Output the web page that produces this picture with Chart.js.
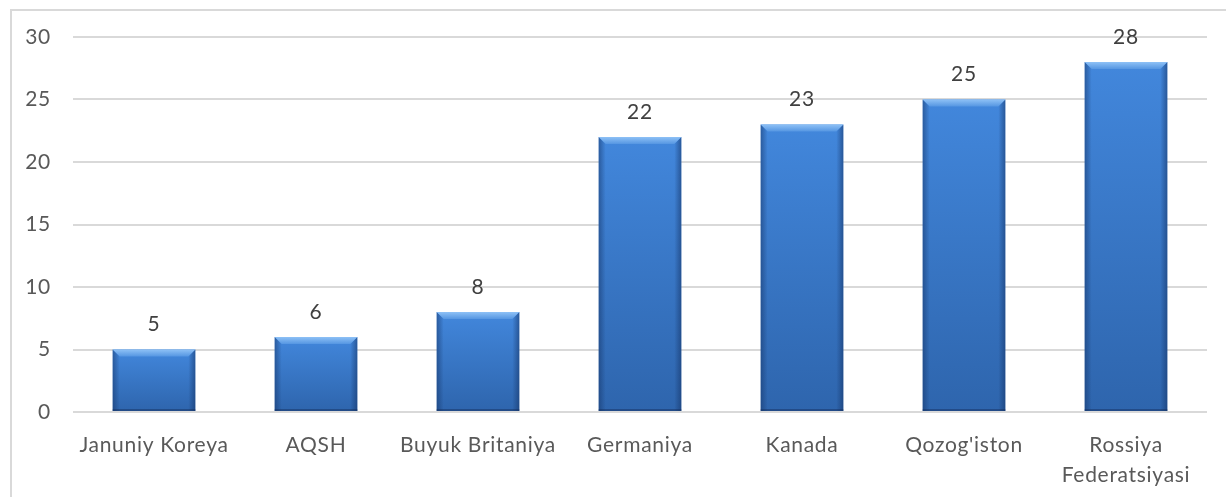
<!DOCTYPE html>
<html>
<head>
<meta charset="utf-8">
<script src="https://cdn.jsdelivr.net/npm/chart.js@4"></script>
<style>
  html, body { margin: 0; padding: 0; background: #fff; overflow: hidden; }
  #wrap { position: relative; width: 1226px; height: 497px; }
  #frame { position: absolute; left: 10px; top: 9px; width: 1300px; height: 600px; border: 2px solid #d9d9d9; box-sizing: border-box; }
  canvas { position: absolute; left: 0; top: 0; }
</style>
</head>
<body>
<div id="wrap">
  <div id="frame"></div>
  <canvas id="chart" width="1226" height="497"></canvas>
</div>
<script>
// Chart data
const countries = ['Januniy Koreya', 'AQSH', 'Buyuk Britaniya', 'Germaniya', 'Kanada', "Qozog'iston", ['Rossiya', 'Federatsiyasi']];
const values = [5, 6, 8, 22, 23, 25, 28];
const yTicks = [0, 5, 10, 15, 20, 25, 30];

const FONT = 'Lato, "Open Sans", sans-serif';
const FONT_SIZE = 21;

// Slightly spaced lettering, like the original rendering
const spacingPlugin = {
  id: 'spacing',
  beforeDraw(chart) {
    if ('letterSpacing' in chart.ctx) chart.ctx.letterSpacing = '0.7px';
  }
};

// Bevelled bar look, drawn over each bar element
const bevelPlugin = {
  id: 'bevel',
  afterDatasetsDraw(chart) {
    const ctx = chart.ctx;
    chart.getDatasetMeta(0).data.forEach(bar => {
      const l = bar.x - bar.width / 2, r = bar.x + bar.width / 2;
      const t = bar.y, b = bar.base;
      const bv = 7;
      ctx.save();
      // body gradient
      let g = ctx.createLinearGradient(0, t, 0, b);
      g.addColorStop(0, '#4287dc');
      g.addColorStop(1, '#2e65ad');
      ctx.fillStyle = g;
      ctx.fillRect(l, t, r - l, b - t);
      // left edge
      g = ctx.createLinearGradient(l, 0, l + bv, 0);
      g.addColorStop(0, 'rgba(20,50,100,0.5)');
      g.addColorStop(1, 'rgba(20,50,100,0)');
      ctx.fillStyle = g;
      ctx.beginPath();
      ctx.moveTo(l, t); ctx.lineTo(l + bv, t + bv); ctx.lineTo(l + bv, b); ctx.lineTo(l, b); ctx.closePath();
      ctx.fill();
      // right edge
      g = ctx.createLinearGradient(r - bv, 0, r, 0);
      g.addColorStop(0, 'rgba(20,50,100,0)');
      g.addColorStop(1, 'rgba(20,50,100,0.55)');
      ctx.fillStyle = g;
      ctx.beginPath();
      ctx.moveTo(r, t); ctx.lineTo(r - bv, t + bv); ctx.lineTo(r - bv, b); ctx.lineTo(r, b); ctx.closePath();
      ctx.fill();
      // top bevel
      g = ctx.createLinearGradient(0, t, 0, t + bv);
      g.addColorStop(0, '#8ec1f6');
      g.addColorStop(1, '#5596e2');
      ctx.fillStyle = g;
      ctx.beginPath();
      ctx.moveTo(l, t); ctx.lineTo(r, t); ctx.lineTo(r - bv, t + bv); ctx.lineTo(l + bv, t + bv); ctx.closePath();
      ctx.fill();
      // bottom line
      ctx.fillStyle = 'rgba(20,45,90,0.45)';
      ctx.fillRect(l, b - 2, r - l, 2);
      ctx.restore();
    });
  }
};

// Value labels above bars
const labelPlugin = {
  id: 'valueLabels',
  afterDatasetsDraw(chart) {
    const ctx = chart.ctx;
    ctx.save();
    ctx.font = FONT_SIZE + 'px ' + FONT;
    ctx.fillStyle = '#404040';
    ctx.textAlign = 'center';
    ctx.textBaseline = 'middle';
    chart.getDatasetMeta(0).data.forEach((bar, i) => {
      ctx.fillText(values[i], bar.x, bar.y - 25);
    });
    ctx.restore();
  }
};

new Chart(document.getElementById('chart'), {
  type: 'bar',
  data: {
    labels: countries,
    datasets: [{
      data: values,
      backgroundColor: 'rgba(0,0,0,0)',
      categoryPercentage: 1,
      barPercentage: 0.51
    }]
  },
  options: {
    responsive: false,
    animation: false,
    layout: { padding: { top: 37, right: 19, left: 0, bottom: 0 } },
    plugins: { legend: { display: false }, tooltip: { enabled: false } },
    scales: {
      x: {
        grid: { display: false, drawTicks: false },
        border: { display: false },
        ticks: { color: '#595959', font: { family: FONT, size: FONT_SIZE, lineHeight: 1.4 }, padding: 19, maxRotation: 0, autoSkip: false },
        afterFit(scale) { scale.height = 85; }
      },
      y: {
        min: 0, max: 30,
        afterBuildTicks(scale) { scale.ticks = yTicks.map(v => ({ value: v })); },
        grid: { color: '#d9d9d9', lineWidth: 2, drawTicks: false },
        border: { display: false },
        ticks: { color: '#595959', font: { family: FONT, size: FONT_SIZE }, padding: 22 },
        afterFit(scale) { scale.width = 73; }
      }
    }
  },
  plugins: [spacingPlugin, bevelPlugin, labelPlugin]
});
</script>
</body>
</html>
